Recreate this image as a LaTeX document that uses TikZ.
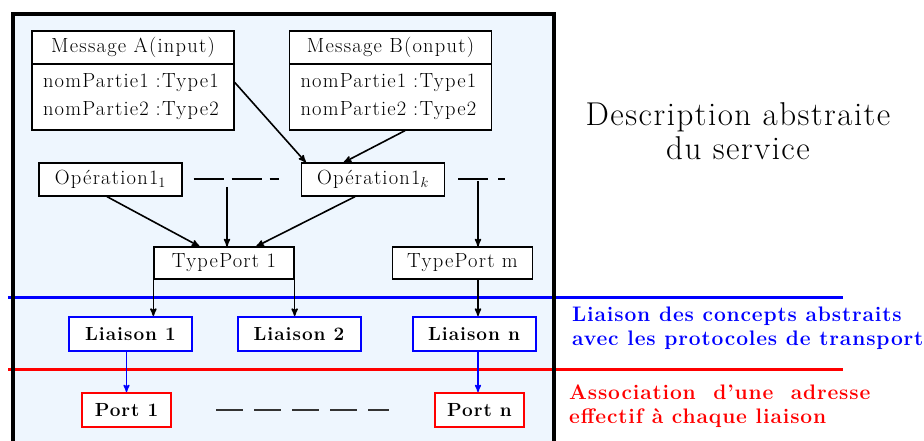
\documentclass[tikz,border=0pt]{standalone}
\usepackage{fontspec}
\setmainfont{Latin Modern Roman}
\usepackage{tikz}
\usetikzlibrary{arrows}

\definecolor{panelbg}{RGB}{238,246,254}
\definecolor{liaisonblue}{RGB}{0,0,255}
\definecolor{portred}{RGB}{255,0,0}

\begin{document}
\begin{tikzpicture}[
            x=1pt, y=-1pt,
            box/.style={
                draw,
                fill=white,
                line width=1.3pt,
                inner sep=0pt,
                font=\fontsize{20.5}{24}\selectfont\addfontfeature{LetterSpace=6}
            },
            msghead/.style={box, minimum width=202pt, minimum height=33pt},
            msgbody/.style={
                box,
                minimum width=202pt,
                minimum height=66pt,
                text width=180pt,
                align=left,
                font=\fontsize{20.5}{28}\selectfont\addfontfeature{LetterSpace=6}
            },
            opbox/.style={box, minimum width=143pt, minimum height=33pt},
            portype/.style={box, minimum width=140pt, minimum height=32pt},
            liaison/.style={
                box,
                draw=liaisonblue,
                line width=2pt,
                minimum width=123pt,
                minimum height=34pt,
                font=\bfseries\fontsize{19}{22}\selectfont\addfontfeature{LetterSpace=5}
            },
            portbox/.style={
                box,
                draw=portred,
                line width=2pt,
                minimum width=89pt,
                minimum height=34pt,
                font=\bfseries\fontsize{19}{22}\selectfont\addfontfeature{LetterSpace=5}
            },
            arr/.style={->, >=stealth', line width=1.6pt},
            bluearr/.style={->, >=stealth', line width=1.5pt, liaisonblue},
            gapline/.style={line width=2pt}
        ]
        \useasboundingbox (0,0) rectangle (924,441);
        \fill[panelbg] (13,14) rectangle (554,441);
        \draw[liaisonblue, line width=3pt] (8,297) -- (843,297);
        \draw[portred, line width=3pt] (8,369) -- (843,369);
        \draw[line width=3.5pt] (13,441) -- (13,14) -- (554,14) -- (554,441);

        \node[msghead] (headA) at (133,47.5) {Message A(input)};
        \node[msgbody] (bodyA) at (133,97) {nomPartie1 :Type1\\nomPartie2 :Type2};
        \node[msghead] (headB) at (390.5,47.5) {Message B(onput)};
        \node[msgbody] (bodyB) at (390.5,97) {nomPartie1 :Type1\\nomPartie2 :Type2};

        \node[opbox] (op1) at (110.5,179.5) {Opération1$_1$};
        \node[opbox] (opk) at (373,179.5) {Opération1$_k$};

        \node[portype] (tp1) at (224,263) {TypePort 1};
        \node[portype] (tpm) at (462.5,263) {TypePort m};

        \foreach \name/\x/\num in {l1/130.5/1, l2/299/2, ln/474/n} {
            \node[liaison] (\name) at (\x,334) {Liaison \num};
        }
        \node[portbox] (p1) at (126.5,410) {Port 1};
        \node[portbox] (pn) at (479.5,410) {Port n};

        \draw[arr] ([yshift=-19pt]bodyA.north east) -- ([xshift=5pt]opk.north west);
        \draw[arr] ([xshift=14.5pt]bodyB.south) -- ([xshift=43pt]opk.north west);

        \draw[gapline, dash pattern=on 30pt off 8pt] ([xshift=11pt]op1.east) -- ([xshift=-22pt]opk.west);
        \draw[gapline, dash pattern=on 30pt off 10pt] ([xshift=13pt]opk.east) -- ++(47,0);
        \coordinate (stem1) at (227,187);
        \coordinate (stemk) at (478,181);

        \draw[arr] ([xshift=-3.5pt]op1.south) -- ([xshift=46pt]tp1.north west);
        \draw[arr] (stem1) -- (stem1 |- tp1.north);
        \draw[arr] ([xshift=-18pt]opk.south) -- ([xshift=103pt]tp1.north west);
        \draw[arr] (stemk) -- (stemk |- tpm.north);

        \draw[arr] (tp1.south west) -- (tp1.south west |- l1.north);
        \draw[arr] (tp1.south east) -- (tp1.south east |- l2.north);
        \draw[arr] (stemk |- tpm.south) -- (stemk |- ln.north);

        \draw[bluearr] (p1.north |- l1.south) -- (p1.north);
        \draw[bluearr] (stemk |- ln.south) -- (stemk |- pn.north);

        \draw[line width=2.5pt, black!80, dash pattern=on 27pt off 11pt] ([xshift=44pt]p1.east) -- ([xshift=-45pt]pn.west);

        \node[font=\fontsize{33}{34}\selectfont\addfontfeature{LetterSpace=4.5}, align=center] (titre) at (738,131) {Description abstraite\\du service};
        \node[anchor=north west, inner sep=0pt, align=left, text=liaisonblue,
            font=\bfseries\fontsize{21}{23.5}\selectfont\addfontfeature{LetterSpace=4}] (txtliaison) at (572,307)
            {Liaison des concepts abstraits\\avec les protocoles de transport};
        \node[anchor=north west, inner sep=0pt, align=left, text=portred,
            font=\bfseries\fontsize{21}{23.5}\selectfont\addfontfeature{LetterSpace=4}] (txtport) at (569,385)
            {Association\ \ d'une\ \ adresse\\effectif à chaque liaison};
\end{tikzpicture}
\end{document}
